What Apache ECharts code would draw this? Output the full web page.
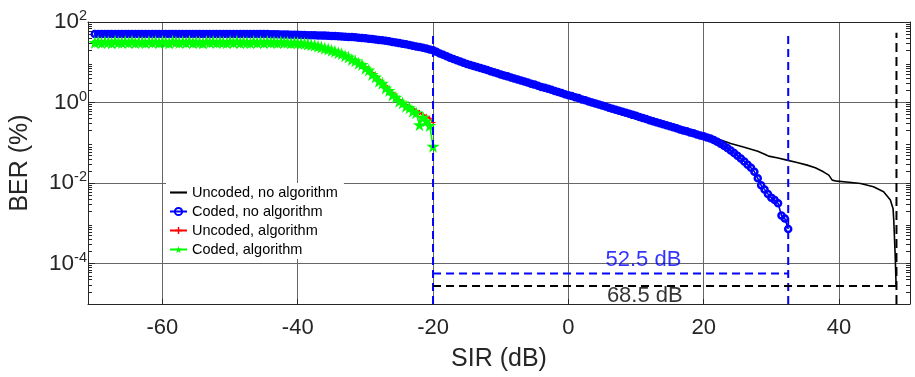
<!DOCTYPE html>
<html>
<head>
<meta charset="utf-8">
<script src="https://cdn.jsdelivr.net/npm/echarts@6/dist/echarts.min.js"></script>
<style>
html,body{margin:0;padding:0;background:#fff;}
#chart{width:915px;height:377px;}
</style>
</head>
<body>
<div id="chart"></div>
<script>
// ---------------- data ----------------
const seriesNames = ['Uncoded, no algorithm', 'Coded, no algorithm', 'Uncoded, algorithm', 'Coded, algorithm'];

// SIR grid (dB), 0.5 dB steps
const sirGrid = [
  -70,-69.5,-69,-68.5,-68,-67.5,-67,-66.5,-66,-65.5,-65,-64.5,-64,-63.5,-63,-62.5,-62,-61.5,-61,-60.5,
  -60,-59.5,-59,-58.5,-58,-57.5,-57,-56.5,-56,-55.5,-55,-54.5,-54,-53.5,-53,-52.5,-52,-51.5,-51,-50.5,
  -50,-49.5,-49,-48.5,-48,-47.5,-47,-46.5,-46,-45.5,-45,-44.5,-44,-43.5,-43,-42.5,-42,-41.5,-41,-40.5,
  -40,-39.5,-39,-38.5,-38,-37.5,-37,-36.5,-36,-35.5,-35,-34.5,-34,-33.5,-33,-32.5,-32,-31.5,-31,-30.5,
  -30,-29.5,-29,-28.5,-28,-27.5,-27,-26.5,-26,-25.5,-25,-24.5,-24,-23.5,-23,-22.5,-22,-21.5,-21,-20.5,
  -20,-19.5,-19,-18.5,-18,-17.5,-17,-16.5,-16,-15.5,-15,-14.5,-14,-13.5,-13,-12.5,-12,-11.5,-11,-10.5,
  -10,-9.5,-9,-8.5,-8,-7.5,-7,-6.5,-6,-5.5,-5,-4.5,-4,-3.5,-3,-2.5,-2,-1.5,-1,-0.5,
  0,0.5,1,1.5,2,2.5,3,3.5,4,4.5,5,5.5,6,6.5,7,7.5,8,8.5,9,9.5,
  10,10.5,11,11.5,12,12.5,13,13.5,14,14.5,15,15.5,16,16.5,17,17.5,18,18.5,19,19.5,
  20,20.5,21,21.5,22,22.5,23,23.5,24,24.5,25,25.5,26,26.5,27,27.5,28,28.5,29,29.5,
  30,30.5,31,31.5,32,32.5
];

// Coded, no algorithm (BER %), on sirGrid
const berCodedNoAlg = [
  50.6,50.4,50.5,50.7,50.5,50.3,50.6,50.5,50.4,50.6,50.5,50.7,50.4,50.5,50.6,50.3,50.5,50.6,50.4,50.5,
  50.5,50.6,50.4,50.5,50.7,50.5,50.4,50.6,50.5,50.3,50.5,50.6,50.5,50.4,50.6,50.5,50.5,50.4,50.6,50.5,
  50.4,50.5,50.6,50.4,50.5,50.5,50.3,50.4,50.5,50.3,50.3,50.1,50.0,49.8,49.5,49.2,49.0,48.8,48.5,48.3,
  48.1,47.8,47.4,47.2,47.0,46.7,46.3,46.1,45.9,45.7,45.2,44.7,44.2,43.7,43.2,42.7,42.2,41.7,40.9,40.3,
  39.4,38.5,37.6,36.7,35.9,35.1,34.3,33.1,32.0,30.9,29.9,28.8,27.9,26.9,25.7,24.8,24.0,22.9,21.9,20.9,
  20.0,18.2,16.6,15.3,14.1,13.0,12.0,11.2,10.5,9.77,9.12,8.61,8.13,7.67,7.24,6.84,6.46,6.03,5.69,5.37,
  5.01,4.73,4.47,4.22,3.98,3.76,3.55,3.35,3.16,2.95,2.79,2.63,2.45,2.32,2.19,2.07,1.95,1.84,1.74,1.62,
  1.53,1.45,1.36,1.29,1.20,1.14,1.07,1.01,0.955,0.891,0.841,0.794,0.741,0.700,0.661,0.624,0.589,0.556,0.525,0.495,
  0.468,0.437,0.412,0.389,0.363,0.343,0.324,0.305,0.288,0.272,0.257,0.243,0.229,0.216,0.204,0.193,0.182,0.172,0.162,0.153,
  0.145,0.136,0.129,0.117,0.107,0.0955,0.0851,0.0741,0.0646,0.0562,0.0479,0.0407,0.0347,0.0288,0.0240,0.0191,0.0132,0.00891,0.00692,0.00537,
  0.00437,0.00380,0.00316,0.00158,0.00132,0.000724
];

// Uncoded, algorithm (BER %), on sirGrid from -70 to -20
const berUncodedAlg = [
  32.1,30.9,32.7,31.4,30.6,33.0,31.8,30.7,32.5,31.2,32.9,30.8,31.9,33.1,30.5,32.2,31.6,30.9,32.8,31.3,
  30.7,32.4,31.8,30.6,32.9,31.1,30.8,32.6,31.5,33.0,30.9,31.7,32.8,30.6,32.1,31.2,32.7,30.8,31.9,32.5,
  31.0,32.7,30.8,32.2,31.5,33.0,31.2,30.9,32.4,31.1,32.6,30.7,32.3,31.0,32.5,30.9,31.8,30.6,31.4,30.8,
  30.9,30.1,29.5,28.8,27.8,26.9,25.6,24.5,22.9,21.8,20.4,19.2,17.8,16.6,15.2,13.9,12.4,11.3,10.0,9.1,
  7.8,6.7,5.6,4.6,3.8,3.2,2.6,2.15,1.75,1.45,1.2,1.02,0.9,0.8,0.7,0.64,0.57,0.5,0.46,0.41,
  0.32
];

// Coded, algorithm (BER %), on sirGrid from -70 to -20
const berCodedAlg = [
  31.2,33.0,30.6,32.4,31.8,30.2,33.3,31.5,30.8,32.6,31.1,33.4,30.5,32.0,31.7,30.4,32.9,31.3,32.2,30.7,
  32.8,31.4,30.3,33.1,31.9,30.9,32.5,31.0,33.2,30.6,32.1,31.6,30.2,32.7,31.3,33.0,30.8,32.3,31.5,30.5,
  32.6,31.2,33.1,30.7,32.0,31.5,30.4,32.8,31.0,32.3,30.6,33.0,31.4,31.9,30.5,32.4,31.0,31.6,30.3,31.2,
  30.6,29.8,29.2,28.4,27.3,26.6,25.0,24.1,22.2,21.5,19.8,18.9,17.2,16.3,14.6,13.5,11.8,10.9,9.4,8.8,
  7.1,6.4,5.0,4.3,3.4,3.0,2.3,2.0,1.55,1.36,1.08,0.97,0.81,0.74,0.61,0.56,0.28,0.43,0.35,0.27,
  0.082
];

// Uncoded, no algorithm (line only)
const sirUncodedNoAlg = [-70,-60,-50,-45,-42,-40,-38,-36,-34,-32,-30,-28,-26,-24,-22,-20,-18,-16,-12,-8,
  -4,0,4,8,12,16,20,21,22,24,26,28,29.1,29.6,31,32.3,33.8,35.3,36.5,37.7,
  38.5,39.0,39.7,41.5,43.2,45.1,46.6,47.6,48.0,48.1,48.3,48.45];
const berUncodedNoAlg = [50.5,50.5,50.4,50.3,49.0,48.1,47.0,45.9,44.2,42.2,39.4,35.9,32.0,27.9,24.0,20.0,14.1,10.5,6.46,3.98,
  2.45,1.53,0.955,0.589,0.363,0.229,0.150,0.138,0.127,0.0968,0.078,0.062,0.0515,0.0468,0.042,0.0373,0.0327,0.028,0.024,0.0191,
  0.0158,0.0119,0.0112,0.0105,0.0098,0.0081,0.0061,0.0038,0.0023,0.0012,0.00018,0.000028];

// Threshold markers
const sirStart = -20;          // dB
const sirCodedEnd = 32.5;      // dB  (52.5 dB span)
const sirUncodedEnd = 48.5;    // dB  (68.5 dB span)
const berFloor = 1e-5;
const berTop = 54;
const berCodedMark = 5.7e-5;
const berUncodedMark = 2.8e-5;
const spanLabels = ['52.5 dB', '68.5 dB'];
const spanLabelPos = [[11.1, 1.22e-4], [11.3, 1.55e-5]];

// Axis ticks
const xTicks = [-60, -40, -20, 0, 20, 40];
const yMajorTicks = [1e-4, 1e-2, 1, 100];
const yDecades = [1e-5, 1e-4, 1e-3, 1e-2, 1e-1, 1, 10];
const yMinorMult = [2, 3, 4, 5, 6, 7, 8, 9];

// ---------------- chart ----------------
const FONT = '"Liberation Sans", Arial, Helvetica, sans-serif';
const AX = '#262626';
const GRID = '#666666';
const yMinorTicks = [];
yDecades.forEach(d => yMinorMult.forEach(m => yMinorTicks.push(+(d * m).toPrecision(3))));
const yAllTicks = yMinorTicks.concat(yMajorTicks);

const starPath = 'path://M50,0 L61,35 L98,35 L68,57 L79,91 L50,70 L21,91 L32,57 L2,35 L39,35 Z';
const plusPath = 'path://M4,0 H6 V4 H10 V6 H6 V10 H4 V6 H0 V4 H4 Z';
const linePath = 'path://M0,0 H40 V5 H0 Z';

function pairs(xs, ys) { return ys.map((y, i) => [xs[i], y]); }

const chart = echarts.init(document.getElementById('chart'), null, {renderer: 'canvas'});

const dashSeries = (name, color, pts, dash) => ({
  type: 'line', name: name, data: pts, symbol: 'none', silent: true, z: 5,
  lineStyle: {color: color, width: 2, type: dash}, clip: true
});

const option = {
  animation: false,
  backgroundColor: '#ffffff',
  grid: {left: 88, right: 5, top: 22, bottom: 73},
  legend: {
    data: [
      {name: seriesNames[0], icon: linePath},
      {name: seriesNames[1]},
      {name: seriesNames[2]},
      {name: seriesNames[3]}
    ],
    orient: 'vertical', left: 166, top: 183,
    itemWidth: 17, itemHeight: 9, itemGap: 4,
    backgroundColor: '#ffffff', padding: [2, 6, 2, 3],
    textStyle: {fontSize: 14.5, color: '#000', fontFamily: FONT}
  },
  xAxis: [{
    type: 'value', min: -71, max: 50.5, position: 'bottom',
    axisLine: {show: true, onZero: false, lineStyle: {color: AX, width: 1}},
    axisTick: {show: true, inside: true, length: 5, customValues: xTicks, lineStyle: {color: AX}},
    axisLabel: {customValues: xTicks, fontSize: 22, color: AX, margin: 13, fontFamily: FONT},
    splitLine: {show: true, lineStyle: {color: GRID, width: 1}},
    name: 'SIR (dB)', nameLocation: 'middle', nameGap: 43,
    nameTextStyle: {fontSize: 25, color: AX, fontFamily: FONT}
  }, {
    type: 'value', min: -71, max: 50.5, position: 'top',
    axisLine: {show: true, onZero: false, lineStyle: {color: AX, width: 1}},
    axisTick: {show: false}, axisLabel: {show: false}, splitLine: {show: false}
  }],
  yAxis: [{
    type: 'log', logBase: 10, min: 1e-5, max: 100, position: 'left',
    axisLine: {show: true, onZero: false, lineStyle: {color: AX, width: 1}},
    axisTick: {show: true, inside: true, length: 7, customValues: yMajorTicks, lineStyle: {color: AX}},
    axisLabel: {
      customValues: yMajorTicks, margin: 1, color: AX,
      formatter: v => '{b|10}{s|' + Math.round(Math.log10(v)) + '}',
      rich: {
        b: {fontSize: 22.5, fontFamily: FONT, color: AX},
        s: {fontSize: 14.5, fontFamily: FONT, color: AX, verticalAlign: 'top', padding: [0, 0, 12, 0]}
      }
    },
    splitLine: {show: true, lineStyle: {color: GRID, width: 1}},
    name: 'BER (%)', nameLocation: 'middle', nameGap: 55,
    nameTextStyle: {fontSize: 25, color: AX, fontFamily: FONT}
  }, {
    type: 'log', logBase: 10, min: 1e-5, max: 100, position: 'left',
    axisLine: {show: false, onZero: false},
    axisTick: {show: true, inside: true, length: 4, customValues: yMinorTicks, lineStyle: {color: AX}},
    axisLabel: {show: false}, splitLine: {show: false}
  }, {
    type: 'log', logBase: 10, min: 1e-5, max: 100, position: 'right',
    axisLine: {show: true, onZero: false, lineStyle: {color: AX, width: 1}},
    axisTick: {show: true, inside: true, length: 4, customValues: yAllTicks, lineStyle: {color: AX}},
    axisLabel: {show: false}, splitLine: {show: false}
  }],
  series: [
    {
      type: 'line', name: seriesNames[0], data: pairs(sirUncodedNoAlg, berUncodedNoAlg),
      symbol: 'none',
      lineStyle: {color: '#000000', width: 1.6}, itemStyle: {color: '#000000'}, z: 2
    },
    {
      type: 'line', name: seriesNames[1], data: pairs(sirGrid, berCodedNoAlg),
      symbol: 'circle', symbolSize: 6, showAllSymbol: true,
      lineStyle: {color: '#0000ff', width: 1.6},
      itemStyle: {color: 'rgba(255,255,255,0)', borderColor: '#0000ff', borderWidth: 2.5}, z: 3
    },
    {
      type: 'line', name: seriesNames[2], data: pairs(sirGrid, berUncodedAlg),
      symbol: plusPath, symbolSize: 5, showAllSymbol: true,
      lineStyle: {color: '#ff0000', width: 1.6}, itemStyle: {color: '#ff0000'}, z: 3
    },
    {
      type: 'line', name: seriesNames[3], data: pairs(sirGrid, berCodedAlg),
      symbol: starPath, symbolSize: 13, showAllSymbol: true,
      lineStyle: {color: '#00ff00', width: 1.6}, itemStyle: {color: '#00ff00'}, z: 3
    },
    dashSeries('v1', '#0000ff', [[sirStart, berFloor], [sirStart, berTop]], [8, 5]),
    dashSeries('v2', '#0000ff', [[sirCodedEnd, berFloor], [sirCodedEnd, berTop]], [8, 5]),
    dashSeries('v3', '#000000', [[sirUncodedEnd, berFloor], [sirUncodedEnd, berTop]], [9, 5]),
    dashSeries('h1', '#0000ff', [[sirStart, berCodedMark], [sirCodedEnd, berCodedMark]], [8, 5]),
    dashSeries('h2', '#000000', [[sirStart, berUncodedMark], [sirUncodedEnd, berUncodedMark]], [8, 5]),
    {
      type: 'scatter', name: 'labels', silent: true, z: 6,
      data: spanLabelPos.map((p, i) => ({
        value: p,
        label: {show: true, position: 'inside', formatter: spanLabels[i],
          color: i === 0 ? '#0000ff' : '#000000', fontSize: 22, fontFamily: FONT}
      })),
      symbol: 'circle', symbolSize: 1, itemStyle: {color: 'rgba(0,0,0,0)'}
    }
  ]
};
chart.setOption(option);
</script>
</body>
</html>
